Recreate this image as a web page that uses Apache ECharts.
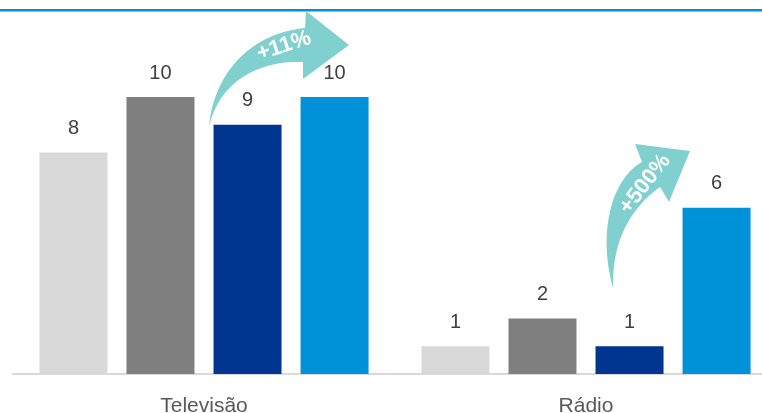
<!DOCTYPE html>
<html>
<head>
<meta charset="utf-8">
<script src="https://cdn.jsdelivr.net/npm/echarts@6/dist/echarts.min.js"></script>
<style>
html,body{margin:0;padding:0;background:#fff;}
#c{width:762px;height:413px;}
</style>
</head>
<body>
<div id="c"></div>
<script>
const categories = ['Televisão', 'Rádio'];
const seriesA = [8, 1];
const seriesB = [10, 2];
const seriesC = [9, 1];
const seriesD = [10, 6];
const colors = ['#D9D9D9', '#7F7F7F', '#003590', '#0092D9'];
const arrowLabels = ['+11%', '+500%'];

const FONT = '"Liberation Sans", Arial, sans-serif';
const chart = echarts.init(document.getElementById('c'), null, {renderer: 'canvas'});

function mk(data, i) {
  return {
    type: 'bar',
    data: data,
    barWidth: 68,
    barGap: '28%',
    itemStyle: {color: colors[i]},
    label: {
      show: true, position: 'top', distance: 14,
      color: '#404040', fontSize: 20, fontFamily: FONT
    },
    z: 2
  };
}

// sample a cubic bezier into points (decorative arrow outline)
function cubic(p0, p1, p2, p3, n) {
  const pts = [];
  for (let k = 0; k <= n; k++) {
    const t = k / n, u = 1 - t;
    pts.push([
      u*u*u*p0[0] + 3*u*u*t*p1[0] + 3*u*t*t*p2[0] + t*t*t*p3[0],
      u*u*u*p0[1] + 3*u*u*t*p1[1] + 3*u*t*t*p2[1] + t*t*t*p3[1]
    ]);
  }
  return pts;
}
function arrowPoly(tail, c1, c2, headA, head1, tip, head2, headB, d1, d2) {
  let pts = cubic(tail, c1, c2, headA, 30);
  pts.push(head1, tip, head2);
  pts = pts.concat(cubic(headB, d1, d2, tail, 30));
  return pts;
}
const arrow1 = arrowPoly([209,127],[212,85],[240,35],[305,28],[306,11],[349,45],[303,79],[303,62],[255,60],[218,85]);
const arrow2 = arrowPoly([613,288],[598,235],[610,180],[642,162],[635,144],[690,151],[669,202],[660,187],[635,205],[612,235]);

chart.setOption({
  animation: false,
  grid: {left: 13, top: 14, bottom: 39, width: 764, outerBoundsMode: 'none', containLabel: false},
  xAxis: {
    type: 'category',
    data: categories,
    axisLine: {lineStyle: {color: '#D9D9D9', width: 2}},
    axisTick: {show: false},
    axisLabel: {color: '#595959', fontSize: 21, fontFamily: FONT, margin: 22}
  },
  yAxis: {
    type: 'value', min: 0, max: 13, show: false, splitLine: {show: false}
  },
  series: [mk(seriesA, 0), mk(seriesB, 1), mk(seriesC, 2), mk(seriesD, 3)],
  graphic: [
    {type: 'rect', shape: {x: 0, y: 9, width: 762, height: 2.5}, style: {fill: '#0092D9'}, z: 10},
    {type: 'polygon', z: 10, shape: {points: arrow1}, style: {fill: '#80D0D0'}},
    {type: 'text', z: 11, x: 284, y: 46, rotation: 18 * Math.PI / 180,
     style: {text: arrowLabels[0], x: 0, y: 0, align: 'center', verticalAlign: 'middle', fill: '#fff', font: 'bold 22px ' + FONT}},
    {type: 'polygon', z: 10, shape: {points: arrow2}, style: {fill: '#80D0D0'}},
    {type: 'text', z: 11, x: 645, y: 184, rotation: 52 * Math.PI / 180,
     style: {text: arrowLabels[1], x: 0, y: 0, align: 'center', verticalAlign: 'middle', fill: '#fff', font: 'bold 22px ' + FONT}}
  ]
});
</script>
</body>
</html>
